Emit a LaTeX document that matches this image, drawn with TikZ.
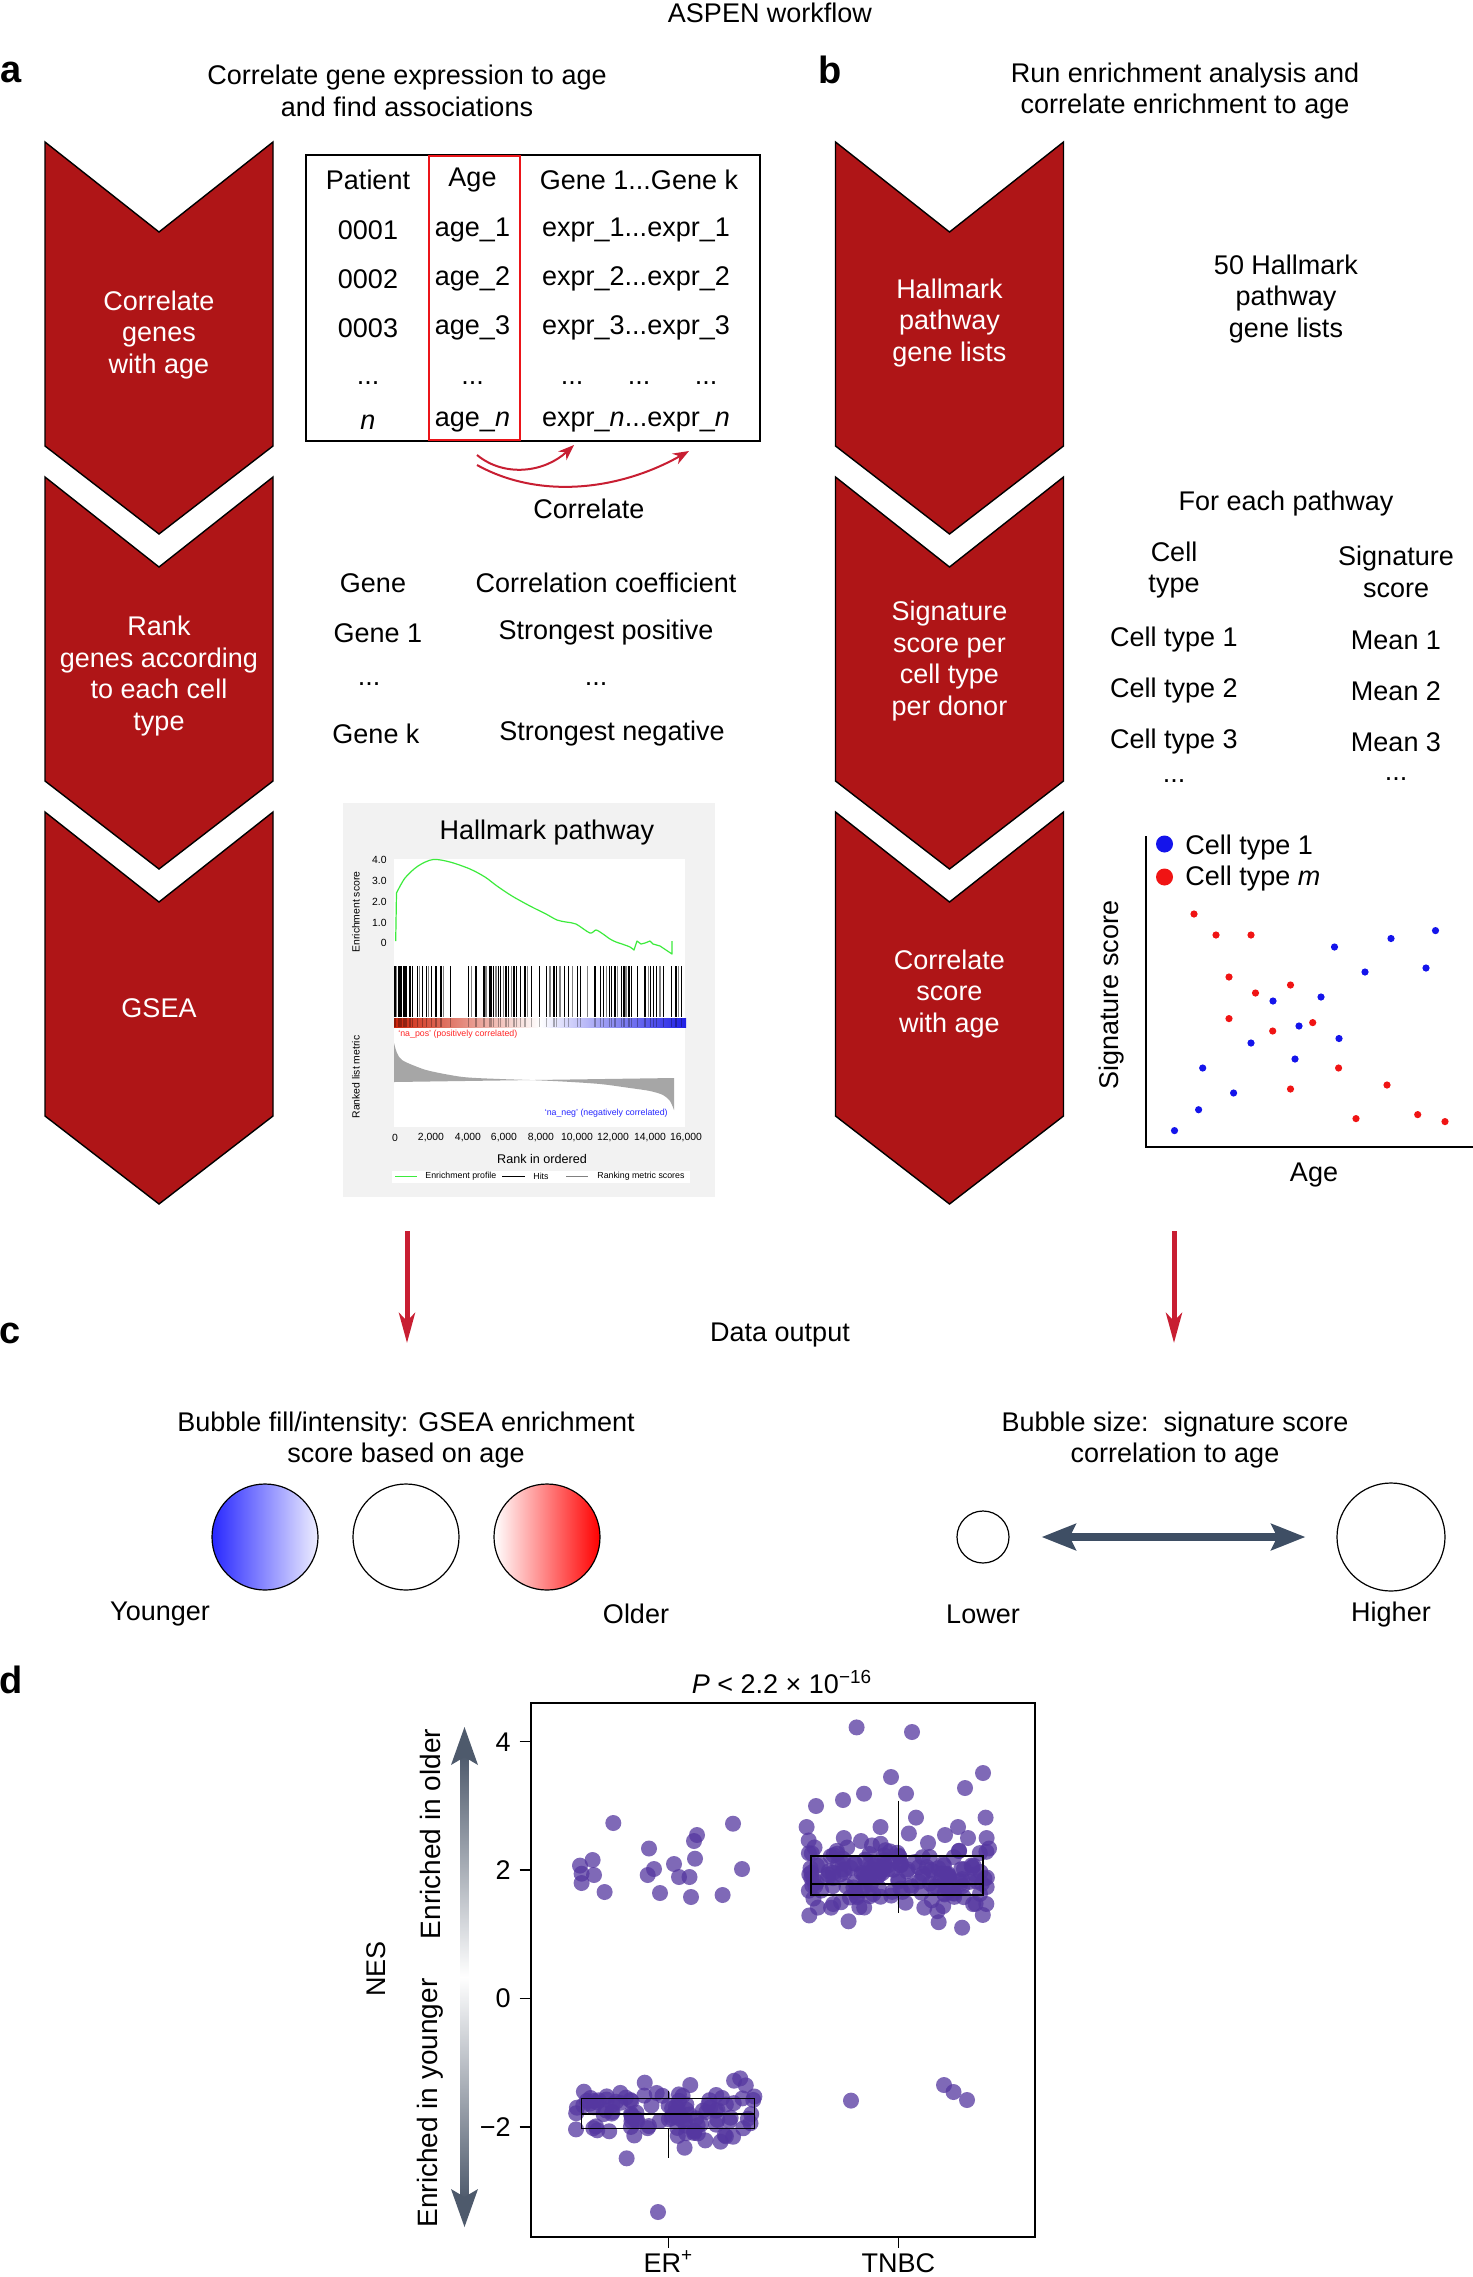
\documentclass[tikz,border=0pt]{standalone}
\usepackage{fontspec}
\setmainfont{Liberation Sans}
\usetikzlibrary{arrows.meta}
\definecolor{chevred}{RGB}{175,21,23}
\definecolor{arrred}{RGB}{200,30,50}
\definecolor{tabred}{RGB}{235,20,25}
\definecolor{slate}{RGB}{62,78,100}
\definecolor{slatetwo}{RGB}{78,90,108}
\definecolor{ptp}{RGB}{85,55,160}
\definecolor{gbg}{RGB}{242,242,242}
\definecolor{egreen}{RGB}{60,235,60}
\definecolor{ptblue}{RGB}{20,20,235}
\definecolor{ptred}{RGB}{240,20,20}
\definecolor{barred}{RGB}{205,35,10}
\definecolor{barblue}{RGB}{30,30,230}
\definecolor{cblue}{RGB}{40,40,255}
\definecolor{cred}{RGB}{255,0,0}
\newcommand\chevshape[2]{\filldraw[chev] (#1-114,#2) -- (#1,#2+90) -- (#1+114,#2) -- (#1+114,#2+304) -- (#1,#2+392) -- (#1-114,#2+304) -- cycle;}
\begin{document}
\begin{tikzpicture}[x=0.5pt,y=-0.5pt,
 txt/.style={font=\fontsize{13.5}{15.8}\selectfont, align=center, inner sep=0},
 wtxt/.style={txt, text=white},
 plab/.style={font=\fontsize{19}{19}\bfseries\selectfont, inner sep=0},
 tiny/.style={font=\fontsize{5.2}{6}\selectfont, inner sep=0},
 tinier/.style={font=\fontsize{4.4}{5}\selectfont, inner sep=0},
 chev/.style={fill=chevred, draw=black, line width=0.7pt, line join=miter},
 bub/.style={circle, draw=black, line width=0.6pt, inner sep=0},
 dotp/.style={fill=ptp, fill opacity=0.75},
]
\useasboundingbox (0,0) rectangle (1473,2277);
\fill[white] (0,0) rectangle (1473,2277);

% ---------- titles ----------
\node[txt] (title) at (770,13) {ASPEN workflow};
\node[plab] (la) at (11,72) {a};
\node[plab] (lb) at (830,70) {b};
\node[plab] (lc) at (10,1333) {c};
\node[plab] (ld) at (11,1680) {d};
\node[txt] (ha) at (407,91) {Correlate gene expression to age\\and find associations};
\node[txt] (hb) at (1185,91) {Run enrichment analysis and\\correlate enrichment to age};

% ---------- chevrons ----------
\chevshape{159}{142}
\chevshape{159}{477}
\chevshape{159}{812}
\chevshape{949.5}{142}
\chevshape{949.5}{477}
\chevshape{949.5}{812}
\node[wtxt] (c1t) at (159,335) {Correlate\\genes\\with age};
\node[wtxt] (c2t) at (159,676) {Rank\\genes according\\to each cell\\type};
\node[wtxt] (c3t) at (159,1008) {GSEA};
\node[wtxt] (d1t) at (949.5,323) {Hallmark\\pathway\\gene lists};
\node[wtxt] (d2t) at (949.5,661) {Signature\\score per\\cell type\\per donor};
\node[wtxt] (d3t) at (949.5,994) {Correlate\\score\\with age};

% ---------- table a ----------
\draw[line width=1pt] (306,155) rectangle (760,441);
\draw[tabred, line width=1pt] (428.5,156) rectangle (519.5,440);
\node[txt] (t00) at (368,180) {Patient};
\node[txt] (t01) at (472.5,180) {Age};
\node[txt] (t02) at (639,180) {Gene 1...Gene k};
\node[txt] (t10) at (368,230) {0001};
\node[txt] (t11) at (472.5,230) {age\_1};
\node[txt] (t12) at (636,230) {expr\_1...expr\_1};
\node[txt] (t20) at (368,279) {0002};
\node[txt] (t21) at (472.5,279) {age\_2};
\node[txt] (t22) at (636,279) {expr\_2...expr\_2};
\node[txt] (t30) at (368,328) {0003};
\node[txt] (t31) at (472.5,328) {age\_3};
\node[txt] (t32) at (636,328) {expr\_3...expr\_3};
\node[txt] (t40) at (368,383) {...};
\node[txt] (t41) at (472.5,383) {...};
\node[txt] (t42) at (572,383) {...};
\node[txt] (t43) at (639,383) {...};
\node[txt] (t44) at (706,383) {...};
\node[txt] (t50) at (368,422) {\textit{n}};
\node[txt] (t51) at (472.5,422) {age\_\textit{n}};
\node[txt] (t52) at (636,422) {expr\_\textit{n}...expr\_\textit{n}};

\coordinate (ca1s) at (477,455);
\coordinate (ca1e) at (574,445);
\coordinate (ca2s) at (477,465);
\coordinate (ca2e) at (689,451);
\draw[arrred, line width=1pt, -{Stealth[length=8pt,width=6pt]}] (ca1s) .. controls (505,478) and (545,472) .. (ca1e);
\draw[arrred, line width=1pt, -{Stealth[length=8pt,width=6pt]}] (ca2s) .. controls (540,500) and (620,490) .. (ca2e);
\node[txt] (corr) at (589,509) {Correlate};

% ---------- gene ranking ----------
\node[txt] (g0) at (373,583) {Gene};
\node[txt] (g0b) at (606,583) {Correlation coefficient};
\node[txt] (g1) at (378,633) {Gene 1};
\node[txt] (g1b) at (606,633) {Strongest positive};
\node[txt] (g2) at (369,684) {...};
\node[txt] (g2b) at (596,684) {...};
\node[txt] (g3) at (376,734) {Gene k};
\node[txt] (g3b) at (612,734) {Strongest negative};

% ---------- GSEA plot ----------
\fill[gbg] (343,803) rectangle (715,1197);
\fill[white] (394,859) rectangle (685,1127);
\node[txt] (gt) at (547,833) {Hallmark pathway};
\node[tiny, anchor=east] (y4) at (387,860) {4.0};
\node[tiny, anchor=east] (y3) at (387,881) {3.0};
\node[tiny, anchor=east] (y2) at (387,902) {2.0};
\node[tiny, anchor=east] (y1) at (387,923) {1.0};
\node[tiny, anchor=east] (y0) at (387,943) {0};
\node[tiny, rotate=90] (esl) at (356,912) {Enrichment score};
\draw[egreen, line width=0.6pt, line join=round] (395.7,941) -- (396.5,893) -- plot[smooth] coordinates {(396.5,893) (405,878) (418,866) (433,859.5) (450,862) (470,869) (485,877) (497,886) (512,896) (530,906) (546,914) (557,920) (566,922) (576,924) (590,933) (596,930) (603,934) (610,939) (616,942) (622,944) (630,947) (634,950)} -- (637,941) -- (641,944) -- (645,943) -- (650,941) -- (653,944) -- (660,946) -- (672,954) -- (672,941);
\foreach \h in {195,207,213,222,228,240,248,262,278,290,305,318,333,362,415,438,462,480,485,490,505,512,528,535,552,560,572,585,605,628,650,672,680,703,715,742,752,795,812,820,838,845,855,875,882,897,905,922,945,962,970,980,1000,1025,1038,1055}
  {\draw[black, line width=0.55pt] (330+\h/3,966) -- (330+\h/3,1017);}
\foreach \h in {200,268,296,340,425,468,498,520,545,592,660,690,728,773,830,862,888,955,990,1045}
  {\draw[gray, line width=0.55pt] (330+\h/3,966) -- (330+\h/3,1017);}
\shade[left color=barred, right color=white] (394,1018) rectangle (540,1027);
\shade[left color=white, right color=barblue] (540,1018) rectangle (686,1027);
\foreach \h in {195,207,213,222,228,240,248,262,278,290,305,318,333,362,415,438,462,480,485,490,505,512,528,535,552,560,572,585,605,628,650,672,680,703,715,742,752,795,812,820,838,845,855,875,882,897,905,922,945,962,970,980,1000,1025,1038,1055}
  {\draw[black, opacity=0.3, line width=0.55pt] (330+\h/3,1018) -- (330+\h/3,1027);}
\node[tinier, text=red!85, anchor=west] (napos) at (398,1034) {‘na\_pos’ (positively correlated)};
\fill[gray!70] (394,1082) -- plot[smooth] coordinates {(394,1043) (397,1053) (402,1060) (415,1066) (430,1071) (463,1077) (500,1079) (530,1080) (563,1081.5) (600,1084) (630,1088) (650,1091) (663,1095) (670,1101) (674,1110)} -- (674,1078) -- cycle;
\node[tinier, text=blue!85, anchor=east] (naneg) at (668,1113) {‘na\_neg’ (negatively correlated)};
\node[tiny, rotate=90] (rlm) at (356,1077) {Ranked list metric};
\node[tiny] (x0) at (395,1138) {0};
\node[tiny] (x1) at (431,1138) {2,000};
\node[tiny] (x2) at (468,1138) {4,000};
\node[tiny] (x3) at (504,1138) {6,000};
\node[tiny] (x4) at (541,1138) {8,000};
\node[tiny] (x5) at (577,1138) {10,000};
\node[tiny] (x6) at (613,1138) {12,000};
\node[tiny] (x7) at (650,1138) {14,000};
\node[tiny] (x8) at (686,1138) {16,000};
\node[font=\fontsize{6.3}{7}\selectfont, inner sep=0] (rio) at (542,1159) {Rank in ordered};
\fill[white] (392,1171) rectangle (690,1183);
\draw[egreen, line width=0.6pt] (395,1176.5) -- (417,1176.5);
\node[tinier, anchor=west] (lg1) at (425,1176.5) {Enrichment profile};
\draw[black, line width=0.6pt] (502,1176.5) -- (525,1176.5);
\node[tinier, anchor=west] (lg2) at (533,1176.5) {Hits};
\draw[gray, line width=0.6pt] (566,1176.5) -- (588,1176.5);
\node[tinier, anchor=west] (lg3) at (597,1176.5) {Ranking metric scores};

% ---------- panel b right ----------
\node[txt] (hl) at (1286,299) {50 Hallmark\\pathway\\gene lists};
\node[txt] (fep) at (1286,504) {For each pathway};
\node[txt] (ct) at (1174,570) {Cell\\type};
\node[txt] (ss) at (1396,572) {Signature\\score};
\node[txt] (ct1) at (1174,640) {Cell type 1};
\node[txt] (m1) at (1396,640) {Mean 1};
\node[txt] (ct2) at (1174,691) {Cell type 2};
\node[txt] (m2) at (1396,691) {Mean 2};
\node[txt] (ct3) at (1174,742) {Cell type 3};
\node[txt] (m3) at (1396,742) {Mean 3};
\node[txt] (ctd) at (1174,781) {...};
\node[txt] (md) at (1396,779) {...};

\draw[line width=0.8pt] (1146,836) -- (1146,1147) -- (1473,1147);
\node[txt, rotate=90] (sigs) at (1112,995) {Signature score};
\node[txt] (agel) at (1314,1175) {Age};
\fill[ptblue] (1164.5,844) circle (8.5);
\fill[ptred] (1164.5,877) circle (8.5);
\node[txt, anchor=west] (lct1) at (1185,848) {Cell type 1};
\node[txt, anchor=west] (lctm) at (1185,879) {Cell type \textit{m}};
\foreach \a/\b in {1194/914,1216/935,1251/935,1229/977,1255.5/993,1290.5/985,1229/1018.6,1272.7/1031,1312.7/1022.6,1338.6/1068,1290.5/1089,1387/1085,1356/1118.6,1417.7/1114.6,1445/1121.6}
  {\fill[ptred] (\a,\b) circle (3.6);}
\foreach \a/\b in {1334.5/947,1391/938.5,1435.5/930.6,1365/972,1426/968,1321/997,1273/1001,1299/1026,1339/1038.5,1251/1043,1295/1059,1202.7/1068,1233.6/1093,1198.6/1109.7,1174.5/1130.6}
  {\fill[ptblue] (\a,\b) circle (3.6);}

% ---------- panel c ----------
\coordinate (raa) at (407,1231);
\coordinate (rab) at (407,1343);
\coordinate (rba) at (1174,1231);
\coordinate (rbb) at (1174,1343);
\draw[arrred, line width=2.5pt, -{Stealth[length=15pt,width=8pt,inset=4pt]}] (raa) -- (rab);
\draw[arrred, line width=2.5pt, -{Stealth[length=15pt,width=8pt,inset=4pt]}] (rba) -- (rbb);
\node[txt] (dout) at (780,1335) {Data output};
\node[txt] (bfi) at (406,1440) {Bubble fill/intensity: GSEA enrichment\\score based on age};
\node[txt] (bsz) at (1175,1440) {Bubble size:\ \ signature score\\correlation to age};
\node[bub, minimum size=53pt, left color=cblue, right color=cblue!8!white] (cy) at (265,1537) {};
\node[bub, minimum size=53pt, fill=white] (cw) at (406,1537) {};
\node[bub, minimum size=53pt, left color=white, right color=cred] (co) at (547,1537) {};
\node[bub, minimum size=26pt, fill=white] (csm) at (983,1537) {};
\node[bub, minimum size=54pt, fill=white] (cbig) at (1391,1537) {};
\draw[slate, line width=4pt, {Stealth[length=17pt,width=13pt,inset=3pt]}-{Stealth[length=17pt,width=13pt,inset=3pt]}, shorten <=16pt, shorten >=15.5pt] (csm) -- (cbig);
\node[txt] (yng) at (160,1614) {Younger};
\node[txt] (old) at (636,1614) {Older};
\node[txt] (low) at (983,1614) {Lower};
\node[txt] (hig) at (1391,1614) {Higher};

% ---------- panel d ----------
\node[txt] (pval) at (782,1682) {\textit{P} < 2.2 × 10\textsuperscript{−16}};
\draw[line width=0.8pt] (531,1703) rectangle (1035,2237);
\foreach \v/\l in {4/4,2/2,0/0,-2/−2}
  {\draw[line width=0.7pt] (519.6,1998.5-64.2*\v) -- (531,1998.5-64.2*\v);
   \node[txt, anchor=east] (yt\v) at (511,1998.5-64.2*\v) {\l};}
\draw[line width=0.7pt] (668.4,2237) -- (668.4,2248);
\draw[line width=0.7pt] (898.4,2237) -- (898.4,2248);
\node[txt, anchor=base] (xer) at (668.4,2272) {ER\textsuperscript{+}};
\node[txt, anchor=base] (xtn) at (898.4,2272) {TNBC};
\node[txt, rotate=90] (nes) at (376,1969) {NES};
\shade[top color=slatetwo, bottom color=white] (460.5,1755) rectangle (468.5,1977);
\shade[top color=white, bottom color=slatetwo] (460.5,1977) rectangle (468.5,2200);
\fill[slatetwo] (464.5,1727) -- (478,1765) -- (464.5,1757) -- (451,1765) -- cycle;
\fill[slatetwo] (464.5,2227) -- (478,2189) -- (464.5,2197) -- (451,2189) -- cycle;
\node[font=\fontsize{14}{16}\selectfont, inner sep=0, rotate=90] (eio) at (430,1834) {Enriched in older};
\node[font=\fontsize{14}{16}\selectfont, inner sep=0, rotate=90] (eiy) at (430,2103) {Enriched in younger};

\pgfmathsetseed{11}
\foreach \i in {1,...,110}
  {\pgfmathsetmacro\px{576+180*rnd}
   \pgfmathsetmacro\py{2116+30*(rnd+rnd+rnd-1.5)}
   \fill[dotp] (\px,\py) circle (8);}
\foreach \i in {1,...,170}
  {\pgfmathsetmacro\px{807+182*rnd}
   \pgfmathsetmacro\py{1880+36*(rnd+rnd+rnd-1.5)}
   \fill[dotp] (\px,\py) circle (8);}
\foreach \a/\b in {613.3/1823,580/1865.6,592.6/1860,581.6/1873.7,594/1875,581.6/1883,604.6/1892,649/1848.5,654/1869,647.7/1875,660/1893,674/1864,679/1877,689.5/1877,691/1897,697/1835,694/1841,695/1858.7,722.6/1895,733/1823.7,742/1869,658/2212,851/2100.6,944/2085,953.5/2092,967/2100,856.6/1727.4,912/1732,891/1777,983/1773,965/1788,864/1793.7,906/1793.7,843/1800,816/1806,916/1817.6,985.6/1817.6,806.6/1827,958/1827,880.5/1827,945/1835,968/1838,986.6/1838,861/1841,843.8/1838,928/1843,989/1848.5}
  {\fill[dotp] (\a,\b) circle (8);}
\draw[line width=0.7pt] (581.6,2098.5) rectangle (754.7,2128.6);
\draw[line width=0.9pt] (581.6,2113.6) -- (754.7,2113.6);
\draw[line width=0.6pt] (668.4,2091) -- (668.4,2098.5);
\draw[line width=0.6pt] (668.4,2128.6) -- (668.4,2158);
\draw[line width=0.7pt] (811,1856) rectangle (983,1895);
\draw[line width=0.9pt] (811,1884) -- (983,1884);
\draw[line width=0.6pt] (898.4,1800.6) -- (898.4,1856);
\draw[line width=0.6pt] (898.4,1895) -- (898.4,1913);
\end{tikzpicture}
\end{document}
